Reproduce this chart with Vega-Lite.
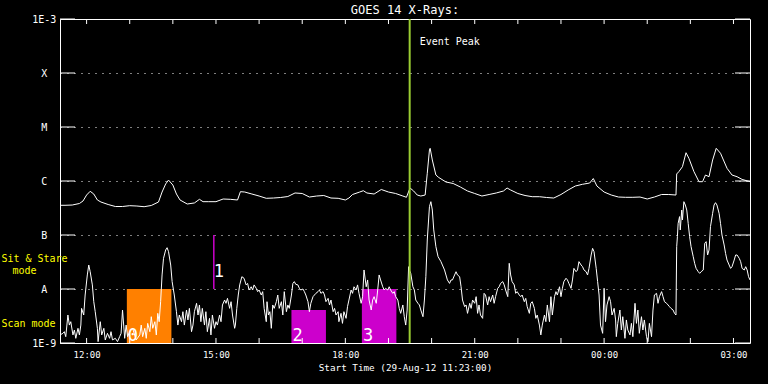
{
  "$schema": "https://vega.github.io/schema/vega-lite/v6.json",
  "width": 690,
  "height": 324,
  "autosize": {"type": "none"},
  "padding": {"left": 60, "top": 19, "right": 18, "bottom": 41},
  "background": "black",
  "title": {"text": "GOES 14 X-Rays:", "color": "white", "font": "DejaVu Sans Mono", "fontSize": 12, "fontWeight": "normal", "offset": -3, "anchor": "middle"},
  "config": {
    "view": {"stroke": "white", "strokeWidth": 1},
    "axis": {"domain": false, "ticks": false, "labelColor": "white", "titleColor": "white", "labelFont": "DejaVu Sans Mono", "titleFont": "DejaVu Sans Mono", "titleFontWeight": "normal", "gridColor": "white", "gridOpacity": 1},
    "text": {"font": "DejaVu Sans Mono"}
  },
  "datasets": {
    "long": [
      {"t": "2012-08-29T11:23", "v": 3.55e-7}, {"t": "2012-08-29T11:30", "v": 3.55e-7}, {"t": "2012-08-29T11:40", "v": 3.59e-7},
      {"t": "2012-08-29T11:50", "v": 3.83e-7}, {"t": "2012-08-29T11:55", "v": 4.26e-7}, {"t": "2012-08-29T12:00", "v": 5.5e-7},
      {"t": "2012-08-29T12:05", "v": 6.45e-7}, {"t": "2012-08-29T12:10", "v": 5.74e-7}, {"t": "2012-08-29T12:15", "v": 4.45e-7},
      {"t": "2012-08-29T12:20", "v": 4.08e-7}, {"t": "2012-08-29T12:30", "v": 3.67e-7}, {"t": "2012-08-29T12:40", "v": 3.37e-7},
      {"t": "2012-08-29T12:50", "v": 3.37e-7}, {"t": "2012-08-29T13:00", "v": 3.49e-7}, {"t": "2012-08-29T13:10", "v": 3.44e-7},
      {"t": "2012-08-29T13:20", "v": 3.34e-7}, {"t": "2012-08-29T13:30", "v": 3.52e-7}, {"t": "2012-08-29T13:40", "v": 4.08e-7},
      {"t": "2012-08-29T13:45", "v": 6.25e-7}, {"t": "2012-08-29T13:50", "v": 8.8e-7}, {"t": "2012-08-29T13:54", "v": 1.04e-6},
      {"t": "2012-08-29T14:00", "v": 8.43e-7}, {"t": "2012-08-29T14:05", "v": 5.74e-7}, {"t": "2012-08-29T14:10", "v": 4.45e-7},
      {"t": "2012-08-29T14:20", "v": 3.75e-7}, {"t": "2012-08-29T14:30", "v": 3.92e-7}, {"t": "2012-08-29T14:37", "v": 4.58e-7},
      {"t": "2012-08-29T14:42", "v": 4.14e-7}, {"t": "2012-08-29T14:50", "v": 4.14e-7}, {"t": "2012-08-29T15:00", "v": 4.14e-7},
      {"t": "2012-08-29T15:10", "v": 4.64e-7}, {"t": "2012-08-29T15:20", "v": 4.58e-7}, {"t": "2012-08-29T15:30", "v": 4.45e-7},
      {"t": "2012-08-29T15:34", "v": 6.34e-7}, {"t": "2012-08-29T15:40", "v": 6.25e-7}, {"t": "2012-08-29T15:50", "v": 5.74e-7},
      {"t": "2012-08-29T16:00", "v": 5.27e-7}, {"t": "2012-08-29T16:10", "v": 4.78e-7}, {"t": "2012-08-29T16:20", "v": 4.84e-7},
      {"t": "2012-08-29T16:30", "v": 4.95e-7}, {"t": "2012-08-29T16:40", "v": 5.16e-7}, {"t": "2012-08-29T16:50", "v": 6.0e-7},
      {"t": "2012-08-29T17:00", "v": 5.87e-7}, {"t": "2012-08-29T17:10", "v": 5.05e-7}, {"t": "2012-08-29T17:20", "v": 5.27e-7},
      {"t": "2012-08-29T17:30", "v": 5.39e-7}, {"t": "2012-08-29T17:40", "v": 4.84e-7}, {"t": "2012-08-29T17:50", "v": 4.78e-7},
      {"t": "2012-08-29T18:00", "v": 4.45e-7}, {"t": "2012-08-29T18:05", "v": 4.84e-7}, {"t": "2012-08-29T18:10", "v": 5.62e-7},
      {"t": "2012-08-29T18:20", "v": 6.25e-7}, {"t": "2012-08-29T18:25", "v": 6.61e-7}, {"t": "2012-08-29T18:30", "v": 6.0e-7},
      {"t": "2012-08-29T18:40", "v": 5.74e-7}, {"t": "2012-08-29T18:50", "v": 6.96e-7}, {"t": "2012-08-29T19:00", "v": 6.25e-7},
      {"t": "2012-08-29T19:10", "v": 5.87e-7}, {"t": "2012-08-29T19:20", "v": 5.27e-7}, {"t": "2012-08-29T19:25", "v": 4.99e-7},
      {"t": "2012-08-29T19:30", "v": 7.42e-7}, {"t": "2012-08-29T19:35", "v": 6.53e-7}, {"t": "2012-08-29T19:40", "v": 5.5e-7},
      {"t": "2012-08-29T19:45", "v": 5.27e-7}, {"t": "2012-08-29T19:51", "v": 5.5e-7}, {"t": "2012-08-29T19:54", "v": 1.39e-6},
      {"t": "2012-08-29T19:57", "v": 3.75e-6}, {"t": "2012-08-29T19:58", "v": 4.03e-6}, {"t": "2012-08-29T20:01", "v": 2.45e-6},
      {"t": "2012-08-29T20:06", "v": 1.29e-6}, {"t": "2012-08-29T20:10", "v": 1.16e-6}, {"t": "2012-08-29T20:20", "v": 9.58e-7},
      {"t": "2012-08-29T20:30", "v": 8.99e-7}, {"t": "2012-08-29T20:40", "v": 7.74e-7}, {"t": "2012-08-29T20:50", "v": 6.53e-7},
      {"t": "2012-08-29T21:00", "v": 5.87e-7}, {"t": "2012-08-29T21:10", "v": 5.27e-7}, {"t": "2012-08-29T21:20", "v": 5.62e-7},
      {"t": "2012-08-29T21:30", "v": 6.0e-7}, {"t": "2012-08-29T21:40", "v": 6.53e-7}, {"t": "2012-08-29T21:45", "v": 7.42e-7},
      {"t": "2012-08-29T21:50", "v": 6.81e-7}, {"t": "2012-08-29T22:00", "v": 5.87e-7}, {"t": "2012-08-29T22:10", "v": 5.39e-7},
      {"t": "2012-08-29T22:20", "v": 5.12e-7}, {"t": "2012-08-29T22:30", "v": 5.12e-7}, {"t": "2012-08-29T22:40", "v": 4.95e-7},
      {"t": "2012-08-29T22:50", "v": 4.84e-7}, {"t": "2012-08-29T23:00", "v": 5.62e-7}, {"t": "2012-08-29T23:10", "v": 6.81e-7},
      {"t": "2012-08-29T23:20", "v": 8.08e-7}, {"t": "2012-08-29T23:30", "v": 8.69e-7}, {"t": "2012-08-29T23:40", "v": 9.18e-7},
      {"t": "2012-08-29T23:45", "v": 1.11e-6}, {"t": "2012-08-29T23:50", "v": 8.08e-7}, {"t": "2012-08-30T00:00", "v": 6.25e-7},
      {"t": "2012-08-30T00:10", "v": 5.5e-7}, {"t": "2012-08-30T00:20", "v": 5.05e-7}, {"t": "2012-08-30T00:30", "v": 4.99e-7},
      {"t": "2012-08-30T00:40", "v": 4.99e-7}, {"t": "2012-08-30T00:50", "v": 5.05e-7}, {"t": "2012-08-30T01:00", "v": 4.64e-7},
      {"t": "2012-08-30T01:10", "v": 5.05e-7}, {"t": "2012-08-30T01:20", "v": 5.62e-7}, {"t": "2012-08-30T01:30", "v": 5.62e-7},
      {"t": "2012-08-30T01:40", "v": 5.5e-7}, {"t": "2012-08-30T01:41", "v": 1.35e-6}, {"t": "2012-08-30T01:44", "v": 1.49e-6},
      {"t": "2012-08-30T01:49", "v": 1.84e-6}, {"t": "2012-08-30T01:54", "v": 3.34e-6}, {"t": "2012-08-30T01:58", "v": 2.63e-6},
      {"t": "2012-08-30T02:05", "v": 1.49e-6}, {"t": "2012-08-30T02:12", "v": 9.71e-7}, {"t": "2012-08-30T02:17", "v": 9.71e-7},
      {"t": "2012-08-30T02:21", "v": 1.29e-6}, {"t": "2012-08-30T02:26", "v": 1.2e-6}, {"t": "2012-08-30T02:31", "v": 2.45e-6},
      {"t": "2012-08-30T02:36", "v": 4.03e-6}, {"t": "2012-08-30T02:42", "v": 3.26e-6}, {"t": "2012-08-30T02:51", "v": 1.72e-6},
      {"t": "2012-08-30T02:58", "v": 1.29e-6}, {"t": "2012-08-30T03:05", "v": 1.2e-6}, {"t": "2012-08-30T03:12", "v": 1.07e-6},
      {"t": "2012-08-30T03:23", "v": 9.71e-7}
    ],
    "short": [
      {"t": "2012-08-29T11:23", "v": 1.41e-9}, {"t": "2012-08-29T11:27", "v": 1.51e-9}, {"t": "2012-08-29T11:29", "v": 1.62e-9},
      {"t": "2012-08-29T11:31", "v": 1.31e-9}, {"t": "2012-08-29T11:34", "v": 3.3e-9}, {"t": "2012-08-29T11:36", "v": 2.15e-9},
      {"t": "2012-08-29T11:38", "v": 2.48e-9}, {"t": "2012-08-29T11:41", "v": 1.41e-9}, {"t": "2012-08-29T11:43", "v": 1.74e-9},
      {"t": "2012-08-29T11:45", "v": 1.22e-9}, {"t": "2012-08-29T11:48", "v": 1.87e-9}, {"t": "2012-08-29T11:50", "v": 1.41e-9},
      {"t": "2012-08-29T11:52", "v": 2.15e-9}, {"t": "2012-08-29T11:53", "v": 4.38e-9}, {"t": "2012-08-29T11:56", "v": 3.3e-9},
      {"t": "2012-08-29T11:58", "v": 7.74e-9}, {"t": "2012-08-29T12:01", "v": 1.82e-8}, {"t": "2012-08-29T12:03", "v": 2.78e-8},
      {"t": "2012-08-29T12:05", "v": 2.09e-8}, {"t": "2012-08-29T12:08", "v": 1.19e-8}, {"t": "2012-08-29T12:10", "v": 5.82e-9},
      {"t": "2012-08-29T12:12", "v": 3.8e-9}, {"t": "2012-08-29T12:15", "v": 1.87e-9}, {"t": "2012-08-29T12:16", "v": 1.06e-9},
      {"t": "2012-08-29T12:19", "v": 2.48e-9}, {"t": "2012-08-29T12:21", "v": 1.41e-9}, {"t": "2012-08-29T12:24", "v": 1.87e-9},
      {"t": "2012-08-29T12:26", "v": 1.14e-9}, {"t": "2012-08-29T12:29", "v": 1.51e-9}, {"t": "2012-08-29T12:32", "v": 1.22e-9},
      {"t": "2012-08-29T12:34", "v": 1.62e-9}, {"t": "2012-08-29T12:36", "v": 1.14e-9}, {"t": "2012-08-29T12:40", "v": 1.22e-9},
      {"t": "2012-08-29T12:43", "v": 1.06e-9}, {"t": "2012-08-29T12:46", "v": 1.31e-9}, {"t": "2012-08-29T12:48", "v": 1.51e-9},
      {"t": "2012-08-29T12:50", "v": 4.08e-9}, {"t": "2012-08-29T12:53", "v": 1.22e-9}, {"t": "2012-08-29T12:55", "v": 2.15e-9},
      {"t": "2012-08-29T12:57", "v": 1.31e-9}, {"t": "2012-08-29T13:00", "v": 1.62e-9}, {"t": "2012-08-29T13:04", "v": 1.87e-9},
      {"t": "2012-08-29T13:09", "v": 1.14e-9}, {"t": "2012-08-29T13:14", "v": 1.41e-9}, {"t": "2012-08-29T13:16", "v": 2.15e-9},
      {"t": "2012-08-29T13:18", "v": 1.31e-9}, {"t": "2012-08-29T13:21", "v": 1.87e-9}, {"t": "2012-08-29T13:23", "v": 1.22e-9},
      {"t": "2012-08-29T13:25", "v": 2.31e-9}, {"t": "2012-08-29T13:28", "v": 1.62e-9}, {"t": "2012-08-29T13:30", "v": 3.07e-9},
      {"t": "2012-08-29T13:32", "v": 1.87e-9}, {"t": "2012-08-29T13:35", "v": 2.48e-9}, {"t": "2012-08-29T13:37", "v": 1.41e-9},
      {"t": "2012-08-29T13:39", "v": 3.54e-9}, {"t": "2012-08-29T13:41", "v": 2.48e-9}, {"t": "2012-08-29T13:43", "v": 5.82e-9},
      {"t": "2012-08-29T13:45", "v": 1.82e-8}, {"t": "2012-08-29T13:47", "v": 3.7e-8}, {"t": "2012-08-29T13:50", "v": 5.27e-8},
      {"t": "2012-08-29T13:52", "v": 5.82e-8}, {"t": "2012-08-29T13:54", "v": 4.91e-8}, {"t": "2012-08-29T13:57", "v": 2.78e-8},
      {"t": "2012-08-29T13:59", "v": 1.37e-8}, {"t": "2012-08-29T14:02", "v": 7.74e-9}, {"t": "2012-08-29T14:05", "v": 3.8e-9},
      {"t": "2012-08-29T14:07", "v": 2.15e-9}, {"t": "2012-08-29T14:09", "v": 3.3e-9}, {"t": "2012-08-29T14:12", "v": 2.48e-9},
      {"t": "2012-08-29T14:14", "v": 3.8e-9}, {"t": "2012-08-29T14:16", "v": 2.15e-9}, {"t": "2012-08-29T14:19", "v": 4.08e-9},
      {"t": "2012-08-29T14:21", "v": 2.67e-9}, {"t": "2012-08-29T14:23", "v": 4.38e-9}, {"t": "2012-08-29T14:26", "v": 1.62e-9},
      {"t": "2012-08-29T14:28", "v": 2.15e-9}, {"t": "2012-08-29T14:30", "v": 3.8e-9}, {"t": "2012-08-29T14:33", "v": 5.43e-9},
      {"t": "2012-08-29T14:35", "v": 3.3e-9}, {"t": "2012-08-29T14:37", "v": 5.06e-9}, {"t": "2012-08-29T14:39", "v": 2.48e-9},
      {"t": "2012-08-29T14:41", "v": 4.38e-9}, {"t": "2012-08-29T14:44", "v": 2.15e-9}, {"t": "2012-08-29T14:46", "v": 3.8e-9},
      {"t": "2012-08-29T14:48", "v": 1.62e-9}, {"t": "2012-08-29T14:51", "v": 2.86e-9}, {"t": "2012-08-29T14:53", "v": 1.41e-9},
      {"t": "2012-08-29T14:55", "v": 3.3e-9}, {"t": "2012-08-29T14:58", "v": 1.87e-9}, {"t": "2012-08-29T15:00", "v": 2.48e-9},
      {"t": "2012-08-29T15:02", "v": 2.15e-9}, {"t": "2012-08-29T15:05", "v": 3.3e-9}, {"t": "2012-08-29T15:07", "v": 2.48e-9},
      {"t": "2012-08-29T15:09", "v": 5.06e-9}, {"t": "2012-08-29T15:12", "v": 6.25e-9}, {"t": "2012-08-29T15:14", "v": 5.43e-9},
      {"t": "2012-08-29T15:16", "v": 6.71e-9}, {"t": "2012-08-29T15:19", "v": 4.38e-9}, {"t": "2012-08-29T15:21", "v": 5.82e-9},
      {"t": "2012-08-29T15:23", "v": 3.3e-9}, {"t": "2012-08-29T15:26", "v": 1.87e-9}, {"t": "2012-08-29T15:27", "v": 2.15e-9},
      {"t": "2012-08-29T15:29", "v": 4.38e-9}, {"t": "2012-08-29T15:31", "v": 7.74e-9}, {"t": "2012-08-29T15:33", "v": 1.19e-8},
      {"t": "2012-08-29T15:36", "v": 1.69e-8}, {"t": "2012-08-29T15:39", "v": 1.58e-8}, {"t": "2012-08-29T15:42", "v": 1.19e-8},
      {"t": "2012-08-29T15:44", "v": 1.27e-8}, {"t": "2012-08-29T15:46", "v": 9.58e-9}, {"t": "2012-08-29T15:49", "v": 1.1e-8},
      {"t": "2012-08-29T15:51", "v": 9.58e-9}, {"t": "2012-08-29T15:53", "v": 1.19e-8}, {"t": "2012-08-29T15:56", "v": 1.03e-8},
      {"t": "2012-08-29T15:58", "v": 8.93e-9}, {"t": "2012-08-29T16:00", "v": 9.58e-9}, {"t": "2012-08-29T16:03", "v": 7.74e-9},
      {"t": "2012-08-29T16:05", "v": 8.93e-9}, {"t": "2012-08-29T16:07", "v": 4.38e-9}, {"t": "2012-08-29T16:10", "v": 2.48e-9},
      {"t": "2012-08-29T16:11", "v": 5.82e-9}, {"t": "2012-08-29T16:13", "v": 3.3e-9}, {"t": "2012-08-29T16:15", "v": 3.8e-9},
      {"t": "2012-08-29T16:17", "v": 1.87e-9}, {"t": "2012-08-29T16:19", "v": 5.06e-9}, {"t": "2012-08-29T16:21", "v": 4.38e-9},
      {"t": "2012-08-29T16:24", "v": 5.82e-9}, {"t": "2012-08-29T16:26", "v": 7.74e-9}, {"t": "2012-08-29T16:28", "v": 4.38e-9},
      {"t": "2012-08-29T16:31", "v": 5.82e-9}, {"t": "2012-08-29T16:33", "v": 3.3e-9}, {"t": "2012-08-29T16:35", "v": 8.93e-9},
      {"t": "2012-08-29T16:38", "v": 3.8e-9}, {"t": "2012-08-29T16:40", "v": 5.06e-9}, {"t": "2012-08-29T16:42", "v": 4.38e-9},
      {"t": "2012-08-29T16:45", "v": 7.74e-9}, {"t": "2012-08-29T16:47", "v": 1.27e-8}, {"t": "2012-08-29T16:49", "v": 1.37e-8},
      {"t": "2012-08-29T16:51", "v": 1.22e-8}, {"t": "2012-08-29T16:54", "v": 1.19e-8}, {"t": "2012-08-29T16:56", "v": 1.03e-8},
      {"t": "2012-08-29T16:58", "v": 9.58e-9}, {"t": "2012-08-29T17:01", "v": 1.0e-8}, {"t": "2012-08-29T17:03", "v": 8.93e-9},
      {"t": "2012-08-29T17:05", "v": 7.74e-9}, {"t": "2012-08-29T17:08", "v": 5.82e-9}, {"t": "2012-08-29T17:10", "v": 3.8e-9},
      {"t": "2012-08-29T17:12", "v": 5.43e-9}, {"t": "2012-08-29T17:15", "v": 7.21e-9}, {"t": "2012-08-29T17:17", "v": 7.74e-9},
      {"t": "2012-08-29T17:19", "v": 8.31e-9}, {"t": "2012-08-29T17:22", "v": 8.93e-9}, {"t": "2012-08-29T17:24", "v": 9.58e-9},
      {"t": "2012-08-29T17:26", "v": 8.31e-9}, {"t": "2012-08-29T17:29", "v": 8.93e-9}, {"t": "2012-08-29T17:31", "v": 7.74e-9},
      {"t": "2012-08-29T17:33", "v": 5.82e-9}, {"t": "2012-08-29T17:36", "v": 6.71e-9}, {"t": "2012-08-29T17:38", "v": 5.06e-9},
      {"t": "2012-08-29T17:40", "v": 6.25e-9}, {"t": "2012-08-29T17:43", "v": 3.8e-9}, {"t": "2012-08-29T17:45", "v": 4.38e-9},
      {"t": "2012-08-29T17:47", "v": 3.3e-9}, {"t": "2012-08-29T17:50", "v": 3.8e-9}, {"t": "2012-08-29T17:51", "v": 2.48e-9},
      {"t": "2012-08-29T17:54", "v": 3.54e-9}, {"t": "2012-08-29T17:56", "v": 2.31e-9}, {"t": "2012-08-29T17:58", "v": 3.8e-9},
      {"t": "2012-08-29T18:01", "v": 2.86e-9}, {"t": "2012-08-29T18:03", "v": 4.71e-9}, {"t": "2012-08-29T18:05", "v": 6.25e-9},
      {"t": "2012-08-29T18:08", "v": 9.58e-9}, {"t": "2012-08-29T18:10", "v": 8.31e-9}, {"t": "2012-08-29T18:12", "v": 1.1e-8},
      {"t": "2012-08-29T18:15", "v": 9.58e-9}, {"t": "2012-08-29T18:17", "v": 1.19e-8}, {"t": "2012-08-29T18:19", "v": 8.31e-9},
      {"t": "2012-08-29T18:22", "v": 5.43e-9}, {"t": "2012-08-29T18:24", "v": 7.21e-9}, {"t": "2012-08-29T18:26", "v": 2.25e-8},
      {"t": "2012-08-29T18:29", "v": 1.1e-8}, {"t": "2012-08-29T18:31", "v": 1.47e-8}, {"t": "2012-08-29T18:33", "v": 6.25e-9},
      {"t": "2012-08-29T18:36", "v": 4.08e-9}, {"t": "2012-08-29T18:38", "v": 6.25e-9}, {"t": "2012-08-29T18:40", "v": 7.21e-9},
      {"t": "2012-08-29T18:43", "v": 5.43e-9}, {"t": "2012-08-29T18:45", "v": 9.58e-9}, {"t": "2012-08-29T18:47", "v": 1.82e-8},
      {"t": "2012-08-29T18:49", "v": 1.47e-8}, {"t": "2012-08-29T18:52", "v": 1.1e-8}, {"t": "2012-08-29T18:54", "v": 9.58e-9},
      {"t": "2012-08-29T18:56", "v": 1.03e-8}, {"t": "2012-08-29T18:59", "v": 9.58e-9}, {"t": "2012-08-29T19:01", "v": 1.1e-8},
      {"t": "2012-08-29T19:03", "v": 9.58e-9}, {"t": "2012-08-29T19:06", "v": 8.31e-9}, {"t": "2012-08-29T19:08", "v": 8.93e-9},
      {"t": "2012-08-29T19:10", "v": 7.21e-9}, {"t": "2012-08-29T19:13", "v": 6.25e-9}, {"t": "2012-08-29T19:15", "v": 4.38e-9},
      {"t": "2012-08-29T19:17", "v": 3.54e-9}, {"t": "2012-08-29T19:20", "v": 5.06e-9}, {"t": "2012-08-29T19:22", "v": 3.07e-9},
      {"t": "2012-08-29T19:24", "v": 2.15e-9}, {"t": "2012-08-29T19:26", "v": 4.08e-9}, {"t": "2012-08-29T19:28", "v": 2.59e-8},
      {"t": "2012-08-29T19:29", "v": 2.25e-8}, {"t": "2012-08-29T19:31", "v": 1.95e-8}, {"t": "2012-08-29T19:34", "v": 1.1e-8},
      {"t": "2012-08-29T19:36", "v": 9.58e-9}, {"t": "2012-08-29T19:38", "v": 6.25e-9}, {"t": "2012-08-29T19:41", "v": 5.43e-9},
      {"t": "2012-08-29T19:43", "v": 5.06e-9}, {"t": "2012-08-29T19:45", "v": 4.08e-9}, {"t": "2012-08-29T19:48", "v": 3.07e-9},
      {"t": "2012-08-29T19:50", "v": 6.25e-9}, {"t": "2012-08-29T19:52", "v": 1.69e-8}, {"t": "2012-08-29T19:54", "v": 8.08e-8},
      {"t": "2012-08-29T19:57", "v": 3.35e-7}, {"t": "2012-08-29T19:59", "v": 4.14e-7}, {"t": "2012-08-29T20:01", "v": 2.9e-7},
      {"t": "2012-08-29T20:03", "v": 1.24e-7}, {"t": "2012-08-29T20:06", "v": 6.08e-8}, {"t": "2012-08-29T20:09", "v": 3.97e-8},
      {"t": "2012-08-29T20:13", "v": 3.21e-8}, {"t": "2012-08-29T20:18", "v": 2.25e-8}, {"t": "2012-08-29T20:22", "v": 1.47e-8},
      {"t": "2012-08-29T20:25", "v": 1.27e-8}, {"t": "2012-08-29T20:27", "v": 1.47e-8}, {"t": "2012-08-29T20:29", "v": 1.47e-8},
      {"t": "2012-08-29T20:32", "v": 1.82e-8}, {"t": "2012-08-29T20:34", "v": 2.09e-8}, {"t": "2012-08-29T20:36", "v": 1.82e-8},
      {"t": "2012-08-29T20:39", "v": 1.69e-8}, {"t": "2012-08-29T20:41", "v": 1.1e-8}, {"t": "2012-08-29T20:43", "v": 6.25e-9},
      {"t": "2012-08-29T20:46", "v": 4.71e-9}, {"t": "2012-08-29T20:48", "v": 5.06e-9}, {"t": "2012-08-29T20:50", "v": 3.54e-9},
      {"t": "2012-08-29T20:53", "v": 5.43e-9}, {"t": "2012-08-29T20:55", "v": 4.38e-9}, {"t": "2012-08-29T20:57", "v": 6.25e-9},
      {"t": "2012-08-29T21:00", "v": 5.43e-9}, {"t": "2012-08-29T21:02", "v": 7.21e-9}, {"t": "2012-08-29T21:04", "v": 3.54e-9},
      {"t": "2012-08-29T21:06", "v": 5.06e-9}, {"t": "2012-08-29T21:08", "v": 3.3e-9}, {"t": "2012-08-29T21:11", "v": 2.86e-9},
      {"t": "2012-08-29T21:13", "v": 8.31e-9}, {"t": "2012-08-29T21:15", "v": 7.74e-9}, {"t": "2012-08-29T21:18", "v": 5.06e-9},
      {"t": "2012-08-29T21:20", "v": 7.21e-9}, {"t": "2012-08-29T21:22", "v": 5.82e-9}, {"t": "2012-08-29T21:25", "v": 7.74e-9},
      {"t": "2012-08-29T21:27", "v": 5.43e-9}, {"t": "2012-08-29T21:29", "v": 7.21e-9}, {"t": "2012-08-29T21:32", "v": 1.03e-8},
      {"t": "2012-08-29T21:34", "v": 1.1e-8}, {"t": "2012-08-29T21:36", "v": 1.27e-8}, {"t": "2012-08-29T21:39", "v": 1.37e-8},
      {"t": "2012-08-29T21:41", "v": 1.19e-8}, {"t": "2012-08-29T21:43", "v": 9.58e-9}, {"t": "2012-08-29T21:46", "v": 7.21e-9},
      {"t": "2012-08-29T21:48", "v": 2.99e-8}, {"t": "2012-08-29T21:50", "v": 1.82e-8}, {"t": "2012-08-29T21:52", "v": 1.37e-8},
      {"t": "2012-08-29T21:55", "v": 1.19e-8}, {"t": "2012-08-29T21:57", "v": 8.31e-9}, {"t": "2012-08-29T21:59", "v": 8.93e-9},
      {"t": "2012-08-29T22:02", "v": 7.74e-9}, {"t": "2012-08-29T22:04", "v": 7.21e-9}, {"t": "2012-08-29T22:06", "v": 7.74e-9},
      {"t": "2012-08-29T22:09", "v": 5.82e-9}, {"t": "2012-08-29T22:11", "v": 6.71e-9}, {"t": "2012-08-29T22:13", "v": 4.71e-9},
      {"t": "2012-08-29T22:16", "v": 3.54e-9}, {"t": "2012-08-29T22:18", "v": 5.43e-9}, {"t": "2012-08-29T22:20", "v": 5.82e-9},
      {"t": "2012-08-29T22:23", "v": 4.38e-9}, {"t": "2012-08-29T22:25", "v": 2.86e-9}, {"t": "2012-08-29T22:27", "v": 3.3e-9},
      {"t": "2012-08-29T22:30", "v": 2.15e-9}, {"t": "2012-08-29T22:32", "v": 1.41e-9}, {"t": "2012-08-29T22:34", "v": 2.15e-9},
      {"t": "2012-08-29T22:37", "v": 3.3e-9}, {"t": "2012-08-29T22:39", "v": 2.48e-9}, {"t": "2012-08-29T22:41", "v": 5.06e-9},
      {"t": "2012-08-29T22:44", "v": 2.48e-9}, {"t": "2012-08-29T22:46", "v": 7.21e-9}, {"t": "2012-08-29T22:48", "v": 3.3e-9},
      {"t": "2012-08-29T22:51", "v": 7.21e-9}, {"t": "2012-08-29T22:53", "v": 8.93e-9}, {"t": "2012-08-29T22:55", "v": 7.74e-9},
      {"t": "2012-08-29T22:58", "v": 1.1e-8}, {"t": "2012-08-29T23:00", "v": 7.21e-9}, {"t": "2012-08-29T23:02", "v": 1.03e-8},
      {"t": "2012-08-29T23:04", "v": 1.37e-8}, {"t": "2012-08-29T23:07", "v": 1.58e-8}, {"t": "2012-08-29T23:09", "v": 1.47e-8},
      {"t": "2012-08-29T23:11", "v": 1.27e-8}, {"t": "2012-08-29T23:14", "v": 1.03e-8}, {"t": "2012-08-29T23:16", "v": 1.47e-8},
      {"t": "2012-08-29T23:18", "v": 2.41e-8}, {"t": "2012-08-29T23:21", "v": 2.09e-8}, {"t": "2012-08-29T23:23", "v": 2.25e-8},
      {"t": "2012-08-29T23:25", "v": 3.21e-8}, {"t": "2012-08-29T23:28", "v": 2.78e-8}, {"t": "2012-08-29T23:30", "v": 2.59e-8},
      {"t": "2012-08-29T23:32", "v": 2.25e-8}, {"t": "2012-08-29T23:35", "v": 2.09e-8}, {"t": "2012-08-29T23:37", "v": 1.82e-8},
      {"t": "2012-08-29T23:39", "v": 2.41e-8}, {"t": "2012-08-29T23:42", "v": 4.26e-8}, {"t": "2012-08-29T23:44", "v": 5.66e-8},
      {"t": "2012-08-29T23:46", "v": 4.91e-8}, {"t": "2012-08-29T23:49", "v": 2.41e-8}, {"t": "2012-08-29T23:51", "v": 1.37e-8},
      {"t": "2012-08-29T23:53", "v": 7.74e-9}, {"t": "2012-08-29T23:55", "v": 2.15e-9}, {"t": "2012-08-29T23:58", "v": 1.51e-9},
      {"t": "2012-08-30T00:00", "v": 1.03e-8}, {"t": "2012-08-30T00:02", "v": 2.48e-9}, {"t": "2012-08-30T00:04", "v": 5.06e-9},
      {"t": "2012-08-30T00:07", "v": 7.21e-9}, {"t": "2012-08-30T00:09", "v": 5.82e-9}, {"t": "2012-08-30T00:11", "v": 3.3e-9},
      {"t": "2012-08-30T00:14", "v": 4.38e-9}, {"t": "2012-08-30T00:16", "v": 2.67e-9}, {"t": "2012-08-30T00:17", "v": 1.31e-9},
      {"t": "2012-08-30T00:19", "v": 2.31e-9}, {"t": "2012-08-30T00:22", "v": 4.08e-9}, {"t": "2012-08-30T00:24", "v": 1.74e-9},
      {"t": "2012-08-30T00:26", "v": 3.07e-9}, {"t": "2012-08-30T00:29", "v": 1.22e-9}, {"t": "2012-08-30T00:31", "v": 2.67e-9},
      {"t": "2012-08-30T00:33", "v": 1.74e-9}, {"t": "2012-08-30T00:36", "v": 1.41e-9}, {"t": "2012-08-30T00:38", "v": 2.31e-9},
      {"t": "2012-08-30T00:40", "v": 1.31e-9}, {"t": "2012-08-30T00:43", "v": 5.43e-9}, {"t": "2012-08-30T00:45", "v": 2.31e-9},
      {"t": "2012-08-30T00:47", "v": 4.08e-9}, {"t": "2012-08-30T00:49", "v": 1.51e-9}, {"t": "2012-08-30T00:52", "v": 3.07e-9},
      {"t": "2012-08-30T00:54", "v": 1.74e-9}, {"t": "2012-08-30T00:56", "v": 2.67e-9}, {"t": "2012-08-30T00:59", "v": 1.31e-9},
      {"t": "2012-08-30T01:01", "v": 1.06e-9}, {"t": "2012-08-30T01:03", "v": 2.31e-9}, {"t": "2012-08-30T01:06", "v": 1.31e-9},
      {"t": "2012-08-30T01:08", "v": 4.08e-9}, {"t": "2012-08-30T01:10", "v": 7.74e-9}, {"t": "2012-08-30T01:13", "v": 8.31e-9},
      {"t": "2012-08-30T01:15", "v": 5.43e-9}, {"t": "2012-08-30T01:17", "v": 7.21e-9}, {"t": "2012-08-30T01:20", "v": 8.93e-9},
      {"t": "2012-08-30T01:22", "v": 7.21e-9}, {"t": "2012-08-30T01:24", "v": 5.82e-9}, {"t": "2012-08-30T01:27", "v": 5.43e-9},
      {"t": "2012-08-30T01:29", "v": 5.06e-9}, {"t": "2012-08-30T01:31", "v": 4.71e-9}, {"t": "2012-08-30T01:33", "v": 4.38e-9},
      {"t": "2012-08-30T01:36", "v": 4.08e-9}, {"t": "2012-08-30T01:38", "v": 3.54e-9}, {"t": "2012-08-30T01:40", "v": 3.3e-9},
      {"t": "2012-08-30T01:41", "v": 6.08e-8}, {"t": "2012-08-30T01:42", "v": 9.31e-8}, {"t": "2012-08-30T01:43", "v": 1.64e-7},
      {"t": "2012-08-30T01:45", "v": 2.19e-7}, {"t": "2012-08-30T01:46", "v": 1.24e-7}, {"t": "2012-08-30T01:48", "v": 2.9e-7},
      {"t": "2012-08-30T01:49", "v": 1.9e-7}, {"t": "2012-08-30T01:51", "v": 4.14e-7}, {"t": "2012-08-30T01:53", "v": 3.59e-7},
      {"t": "2012-08-30T01:55", "v": 2.9e-7}, {"t": "2012-08-30T01:57", "v": 1.64e-7}, {"t": "2012-08-30T01:59", "v": 9.31e-8},
      {"t": "2012-08-30T02:01", "v": 6.08e-8}, {"t": "2012-08-30T02:04", "v": 3.97e-8}, {"t": "2012-08-30T02:06", "v": 2.99e-8},
      {"t": "2012-08-30T02:08", "v": 2.41e-8}, {"t": "2012-08-30T02:11", "v": 2.09e-8}, {"t": "2012-08-30T02:13", "v": 1.95e-8},
      {"t": "2012-08-30T02:15", "v": 2.09e-8}, {"t": "2012-08-30T02:18", "v": 2.25e-8}, {"t": "2012-08-30T02:20", "v": 7.01e-8},
      {"t": "2012-08-30T02:22", "v": 7.53e-8}, {"t": "2012-08-30T02:24", "v": 4.26e-8}, {"t": "2012-08-30T02:26", "v": 5.27e-8},
      {"t": "2012-08-30T02:28", "v": 1.43e-7}, {"t": "2012-08-30T02:31", "v": 2.52e-7}, {"t": "2012-08-30T02:33", "v": 3.59e-7},
      {"t": "2012-08-30T02:35", "v": 3.97e-7}, {"t": "2012-08-30T02:37", "v": 3.59e-7}, {"t": "2012-08-30T02:40", "v": 2.52e-7},
      {"t": "2012-08-30T02:42", "v": 1.64e-7}, {"t": "2012-08-30T02:44", "v": 1.0e-7}, {"t": "2012-08-30T02:47", "v": 6.53e-8},
      {"t": "2012-08-30T02:49", "v": 4.57e-8}, {"t": "2012-08-30T02:51", "v": 3.44e-8}, {"t": "2012-08-30T02:54", "v": 2.78e-8},
      {"t": "2012-08-30T02:56", "v": 2.41e-8}, {"t": "2012-08-30T02:58", "v": 2.59e-8}, {"t": "2012-08-30T03:01", "v": 3.44e-8},
      {"t": "2012-08-30T03:03", "v": 4.26e-8}, {"t": "2012-08-30T03:05", "v": 4.26e-8}, {"t": "2012-08-30T03:08", "v": 3.7e-8},
      {"t": "2012-08-30T03:10", "v": 3.21e-8}, {"t": "2012-08-30T03:12", "v": 2.41e-8}, {"t": "2012-08-30T03:15", "v": 2.25e-8},
      {"t": "2012-08-30T03:17", "v": 2.59e-8}, {"t": "2012-08-30T03:19", "v": 2.25e-8}, {"t": "2012-08-30T03:21", "v": 1.69e-8},
      {"t": "2012-08-30T03:23", "v": 1.47e-8}
    ],
    "rasters": [
      {"start": "2012-08-29T12:56", "end": "2012-08-29T13:58", "low": 1e-9, "high": 1e-8, "label": "0"},
      {"start": "2012-08-29T16:45", "end": "2012-08-29T17:33", "low": 1e-9, "high": 4.08e-9, "label": "2"},
      {"start": "2012-08-29T18:23", "end": "2012-08-29T19:11", "low": 1e-9, "high": 1e-8, "label": "3"}
    ],
    "marker": [
      {"time": "2012-08-29T14:57", "low": 1e-8, "high": 1e-7, "label": "1"}
    ],
    "event": [
      {"time": "2012-08-29T19:29:30", "label": "Event Peak"}
    ],
    "hours": [
      {"h": "2012-08-29T12:00"}, {"h": "2012-08-29T13:00"}, {"h": "2012-08-29T14:00"}, {"h": "2012-08-29T15:00"},
      {"h": "2012-08-29T16:00"}, {"h": "2012-08-29T17:00"}, {"h": "2012-08-29T18:00"}, {"h": "2012-08-29T19:00"},
      {"h": "2012-08-29T20:00"}, {"h": "2012-08-29T21:00"}, {"h": "2012-08-29T22:00"}, {"h": "2012-08-29T23:00"},
      {"h": "2012-08-30T00:00"}, {"h": "2012-08-30T01:00"}, {"h": "2012-08-30T02:00"}, {"h": "2012-08-30T03:00"}
    ],
    "decades": [
      {"level": 1e-9}, {"level": 1e-8}, {"level": 1e-7}, {"level": 1e-6}, {"level": 1e-5}, {"level": 1e-4}, {"level": 1e-3}
    ],
    "modes": [
      {"start": "2012-08-29T11:23", "level": 3.64e-8, "label": "Sit & Stare", "indent": "no"},
      {"start": "2012-08-29T11:23", "level": 2.15e-8, "label": "mode", "indent": "yes"},
      {"start": "2012-08-29T11:23", "level": 2.28e-9, "label": "Scan mode", "indent": "no"}
    ]
  },
  "layer": [
    {
      "data": {"name": "rasters"},
      "mark": {"type": "rect"},
      "encoding": {
        "x": {"field": "start", "type": "temporal",
          "scale": {"domain": [{"year": 2012, "month": 8, "date": 29, "hours": 11, "minutes": 23}, {"year": 2012, "month": 8, "date": 30, "hours": 3, "minutes": 23}]},
          "axis": {"orient": "bottom", "title": "Start Time (29-Aug-12 11:23:00)", "titleFontSize": 9.3, "titlePadding": 4,
            "values": [
              {"year": 2012, "month": 8, "date": 29, "hours": 12},
              {"year": 2012, "month": 8, "date": 29, "hours": 15},
              {"year": 2012, "month": 8, "date": 29, "hours": 18},
              {"year": 2012, "month": 8, "date": 29, "hours": 21},
              {"year": 2012, "month": 8, "date": 30, "hours": 0},
              {"year": 2012, "month": 8, "date": 30, "hours": 3}
            ],
            "format": "%H:%M", "labelPadding": 11.7, "labelBaseline": "middle", "labelFontSize": 9, "labelOverlap": false, "labelFlush": false, "grid": false}},
        "x2": {"field": "end"},
        "y": {"field": "low", "type": "quantitative",
          "scale": {"type": "log", "domain": [1e-9, 1e-3]},
          "axis": {"orient": "left", "title": null, "values": [1e-9, 1e-8, 1e-7, 1e-6, 1e-5, 1e-4, 1e-3],
            "labelExpr": "datum.value < 5e-9 ? '1E-9' : datum.value < 5e-8 ? 'A' : datum.value < 5e-7 ? 'B' : datum.value < 5e-6 ? 'C' : datum.value < 5e-5 ? 'M' : datum.value < 5e-4 ? 'X' : '1E-3'",
            "labelPadding": 16.3, "labelAlign": "center", "labelBaseline": "middle", "labelFontSize": 10, "labelOverlap": false, "labelFlush": false,
            "grid": true, "gridDash": [1, 6]}},
        "y2": {"field": "high"},
        "color": {"field": "label", "type": "nominal", "scale": {"domain": ["0", "2", "3"], "range": ["#ff8000", "#cc00cc", "#cc00cc"]}, "legend": null}
      }
    },
    {
      "data": {"name": "hours"},
      "mark": {"type": "rule", "color": "white", "y2Offset": -5},
      "encoding": {
        "x": {"field": "h", "type": "temporal"},
        "y": {"datum": 1e-9, "type": "quantitative"},
        "y2": {"datum": 1e-9}
      }
    },
    {
      "data": {"name": "hours"},
      "mark": {"type": "rule", "color": "white", "y2Offset": 5},
      "encoding": {
        "x": {"field": "h", "type": "temporal"},
        "y": {"datum": 1e-3, "type": "quantitative"},
        "y2": {"datum": 1e-3}
      }
    },
    {
      "data": {"name": "decades"},
      "mark": {"type": "rule", "color": "white", "x2Offset": 15},
      "encoding": {
        "y": {"field": "level", "type": "quantitative"},
        "x": {"datum": {"year": 2012, "month": 8, "date": 29, "hours": 11, "minutes": 23}, "type": "temporal"},
        "x2": {"datum": {"year": 2012, "month": 8, "date": 29, "hours": 11, "minutes": 23}}
      }
    },
    {
      "data": {"name": "decades"},
      "mark": {"type": "rule", "color": "white", "x2Offset": -15},
      "encoding": {
        "y": {"field": "level", "type": "quantitative"},
        "x": {"datum": {"year": 2012, "month": 8, "date": 30, "hours": 3, "minutes": 23}, "type": "temporal"},
        "x2": {"datum": {"year": 2012, "month": 8, "date": 30, "hours": 3, "minutes": 23}}
      }
    },
    {
      "data": {"name": "rasters"},
      "mark": {"type": "text", "align": "left", "baseline": "alphabetic", "dx": 1, "dy": -2.5, "fontSize": 17, "color": "white"},
      "encoding": {
        "x": {"field": "start", "type": "temporal"},
        "y": {"field": "low", "type": "quantitative"},
        "text": {"field": "label"}
      }
    },
    {
      "data": {"name": "marker"},
      "mark": {"type": "rule", "color": "#cc00cc", "strokeWidth": 1.5},
      "encoding": {
        "x": {"field": "time", "type": "temporal"},
        "y": {"field": "low", "type": "quantitative"},
        "y2": {"field": "high"}
      }
    },
    {
      "data": {"name": "marker"},
      "mark": {"type": "text", "align": "center", "baseline": "middle", "dx": 5, "dy": -17, "fontSize": 17, "color": "white"},
      "encoding": {
        "x": {"field": "time", "type": "temporal"},
        "y": {"field": "low", "type": "quantitative"},
        "text": {"field": "label"}
      }
    },
    {
      "data": {"name": "short"},
      "mark": {"type": "line", "color": "white", "strokeWidth": 1, "clip": true},
      "encoding": {
        "x": {"field": "t", "type": "temporal"},
        "y": {"field": "v", "type": "quantitative"}
      }
    },
    {
      "data": {"name": "long"},
      "mark": {"type": "line", "color": "white", "strokeWidth": 1, "clip": true},
      "encoding": {
        "x": {"field": "t", "type": "temporal"},
        "y": {"field": "v", "type": "quantitative"}
      }
    },
    {
      "data": {"name": "event"},
      "mark": {"type": "rule", "color": "#9acd32", "strokeWidth": 2},
      "encoding": {
        "x": {"field": "time", "type": "temporal"}
      }
    },
    {
      "data": {"name": "event"},
      "mark": {"type": "text", "align": "left", "baseline": "middle", "dx": 10, "dy": 23, "fontSize": 10, "color": "white"},
      "encoding": {
        "x": {"field": "time", "type": "temporal"},
        "y": {"datum": 0.001, "type": "quantitative"},
        "text": {"field": "label"}
      }
    },
    {
      "data": {"name": "modes"},
      "transform": [{"filter": "datum.indent == 'no'"}],
      "mark": {"type": "text", "align": "left", "baseline": "middle", "dx": -58.6, "fontSize": 10, "color": "#ffff00"},
      "encoding": {
        "x": {"field": "start", "type": "temporal"},
        "y": {"field": "level", "type": "quantitative"},
        "text": {"field": "label"}
      }
    },
    {
      "data": {"name": "modes"},
      "transform": [{"filter": "datum.indent == 'yes'"}],
      "mark": {"type": "text", "align": "left", "baseline": "middle", "dx": -47.6, "fontSize": 10, "color": "#ffff00"},
      "encoding": {
        "x": {"field": "start", "type": "temporal"},
        "y": {"field": "level", "type": "quantitative"},
        "text": {"field": "label"}
      }
    }
  ]
}
